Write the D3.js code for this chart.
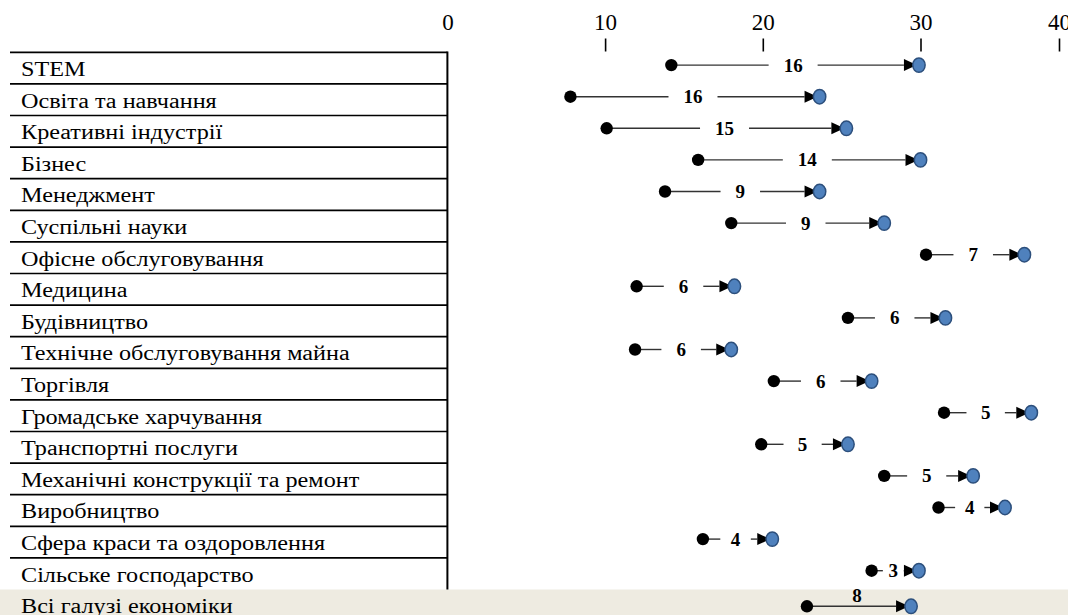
<!DOCTYPE html>
<html>
<head>
<meta charset="utf-8">
<script src="https://cdn.jsdelivr.net/npm/d3@7"></script>
<style>
  body { margin: 0; background: #fff; }
  svg { display: block; font-family: "Liberation Serif", "Times New Roman", serif; }
</style>
</head>
<body>
<svg id="chart" width="1068" height="615"></svg>
<script>
// categories, top to bottom; the last one is the summary row
var categories = [
  "STEM",
  "Освіта та навчання",
  "Креативні індустрії",
  "Бізнес",
  "Менеджмент",
  "Суспільні науки",
  "Офісне обслуговування",
  "Медицина",
  "Будівництво",
  "Технічне обслуговування майна",
  "Торгівля",
  "Громадське харчування",
  "Транспортні послуги",
  "Механічні конструкції та ремонт",
  "Виробництво",
  "Сфера краси та оздоровлення",
  "Сільське господарство",
  "Всі галузі економіки"
];

// start of arrow (black dot) and end (blue dot)
var startValues = [14.2, 7.8, 10.1, 15.9, 13.8, 18.0, 30.4, 12.0, 25.4, 11.9, 20.7, 31.7, 19.9, 27.7, 31.3, 16.2, 26.9, 22.8];
var endValues   = [29.9, 23.6, 25.3, 30.0, 23.6, 27.7, 37.5, 18.2, 31.8, 18.0, 26.9, 38.0, 25.4, 33.8, 36.1, 20.6, 29.9, 29.4];
// difference labels as printed on the chart
var diffLabels  = ["16", "16", "15", "14", "9", "9", "7", "6", "6", "6", "6", "5", "5", "5", "4", "4", "3", "8"];

var tickValues = [0, 10, 20, 30, 40];

var svg = d3.select("#chart");
var W = 1068, H = 615;

// the last segment of the axis is drawn narrower in the original
var x = d3.scaleLinear().domain([0, 30, 40]).range([447.4, 920.5, 1059]);
var y = d3.scaleBand().domain(categories).range([52.3, 52.3 + 31.6 * categories.length]);
var bw = y.bandwidth();
var last = categories[categories.length - 1];
var tableLeft = 10;

// summary row background
svg.append("rect")
  .attr("x", 0).attr("y", y(last))
  .attr("width", W).attr("height", bw + 10)
  .attr("fill", "#eeebe1");

// table lines
svg.append("g").selectAll("line")
  .data(categories.slice(0, -1))
  .join("line")
    .attr("x1", tableLeft).attr("x2", x(0))
    .attr("y1", function(d) { return y(d); })
    .attr("y2", function(d) { return y(d); })
    .attr("stroke", "#000").attr("stroke-width", 1.7);

svg.append("line")
  .attr("x1", x(0)).attr("x2", x(0))
  .attr("y1", y(categories[0]) - 0.8).attr("y2", y(last))
  .attr("stroke", "#000").attr("stroke-width", 2);

// row labels (text in the original is a bit wider than the font)
svg.append("g").selectAll("text")
  .data(categories)
  .join("text")
    .attr("transform", function(d) { return "translate(21," + (y(d) + 23.7) + ") scale(1.21,1)"; })
    .attr("font-size", 20)
    .attr("fill", "#000")
    .text(function(d) { return d; });

// top axis
var axis = d3.axisTop(x).tickValues(tickValues).tickSize(13).tickPadding(8.5)
  .tickFormat(d3.format("d"));
var gx = svg.append("g").attr("transform", "translate(0,51.5)").call(axis);
gx.select(".domain").remove();
gx.selectAll(".tick line").attr("stroke", "#000").attr("stroke-width", 1.6)
  .attr("display", function(d) { return d === 0 ? "none" : null; });
gx.selectAll(".tick text")
  .attr("font-family", "Liberation Serif, Times New Roman, serif")
  .attr("font-size", 23).attr("fill", "#000");

// arrows
var rows = categories.map(function(c, i) {
  return { cat: c, s: startValues[i], e: endValues[i], label: diffLabels[i], summary: c === last };
});

var marks = svg.append("g");
rows.forEach(function(r) {
  var cy = y(r.cat) + bw / 2 - 3;
  if (r.summary) cy = y(r.cat) + bw / 2 + 1;
  var xs = x(r.s), xe = x(r.e);
  var tip = xe - 2, back = tip - 13;
  var mid = (xs + xe) / 2 - 2;

  var lbl = marks.append("text")
    .attr("x", mid)
    .attr("text-anchor", "middle")
    .attr("font-size", 19)
    .attr("font-weight", "bold")
    .attr("fill", "#000")
    .text(r.label);

  if (r.summary) {
    lbl.attr("y", cy - 4);
    marks.append("line")
      .attr("x1", xs).attr("x2", back).attr("y1", cy).attr("y2", cy)
      .attr("stroke", "#333").attr("stroke-width", 1.4);
  } else {
    lbl.attr("y", cy + 6.5);
    var tw = lbl.node().getComputedTextLength();
    var hg = Math.min(tw / 2 + 15, (xe - xs) * 0.22);
    if (mid - hg > xs) {
      marks.append("line")
        .attr("x1", xs).attr("x2", mid - hg).attr("y1", cy).attr("y2", cy)
        .attr("stroke", "#333").attr("stroke-width", 1.4);
    }
    if (mid + hg < back) {
      marks.append("line")
        .attr("x1", mid + hg).attr("x2", back).attr("y1", cy).attr("y2", cy)
        .attr("stroke", "#333").attr("stroke-width", 1.4);
    }
  }

  marks.append("path")
    .attr("d", "M" + tip + "," + cy + "L" + back + "," + (cy - 6) + "L" + back + "," + (cy + 6) + "Z")
    .attr("fill", "#000");

  marks.append("circle")
    .attr("cx", xs).attr("cy", cy).attr("r", 6.2)
    .attr("fill", "#000");

  marks.append("ellipse")
    .attr("cx", xe).attr("cy", cy).attr("rx", 6.2).attr("ry", 7.2)
    .attr("fill", "#4f81bd").attr("stroke", "#2c4f7c").attr("stroke-width", 1.5);
});
</script>
</body>
</html>
